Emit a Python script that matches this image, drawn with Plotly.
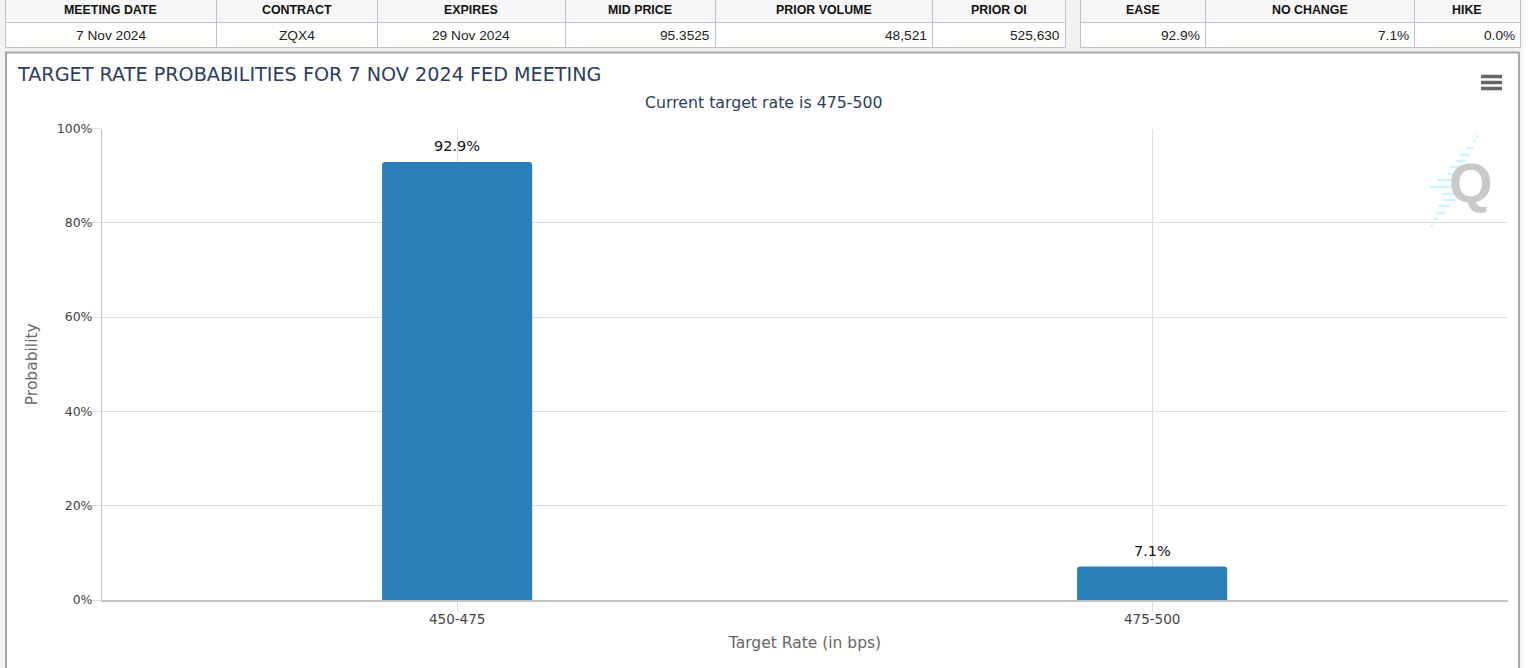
import plotly.graph_objects as go

W, H = 1529, 668

# chart data
rates = ["450-475", "475-500"]
probabilities = [92.9, 7.1]
bar_labels = ["92.9%", "7.1%"]
y_ticks = [0, 20, 40, 60, 80, 100]
y_tick_labels = ["0%", "20%", "40%", "60%", "80%", "100%"]

# the two tables above the chart
left_headers = ["MEETING DATE", "CONTRACT", "EXPIRES", "MID PRICE", "PRIOR VOLUME", "PRIOR OI"]
left_values = ["7 Nov 2024", "ZQX4", "29 Nov 2024", "95.3525", "48,521", "525,630"]
left_aligns = ["center", "center", "center", "right", "right", "right"]
left_edges = [5, 216, 377, 565, 715, 932, 1065]
right_headers = ["EASE", "NO CHANGE", "HIKE"]
right_values = ["92.9%", "7.1%", "0.0%"]
right_aligns = ["right", "right", "right"]
right_edges = [1080, 1205, 1414, 1520]

BLUE = "#2a7fb8"
TABLE_LINE = "#c0c0d0"
TEXT = "#333a45"
CHART_FONT = "DejaVu Sans"

# plot area in pixels
PX0, PX1, PY0, PY1 = 102, 1508, 128.5, 600


def fx(px):
    return px / W


def fy(py):
    return 1 - py / H


fig = go.Figure()

fig.add_trace(
    go.Bar(
        x=rates,
        y=probabilities,
        width=0.216,
        marker=dict(color=BLUE, line=dict(width=0), cornerradius=3),
        cliponaxis=False,
        hoverinfo="x+y",
    )
)

shapes = []
annotations = []


def rect(x0, y0, x1, y1, fill="rgba(0,0,0,0)", line="rgba(0,0,0,0)", width=1, layer="below"):
    shapes.append(
        dict(
            type="rect", xref="paper", yref="paper",
            x0=fx(x0), x1=fx(x1), y0=fy(y0), y1=fy(y1),
            fillcolor=fill, line=dict(color=line, width=width), layer=layer,
        )
    )


def label(px, py, text, size, color, family="Liberation Sans", anchor="center"):
    annotations.append(
        dict(
            x=fx(px), y=fy(py), xref="paper", yref="paper", text=text, showarrow=False,
            xanchor=anchor, yanchor="middle",
            font=dict(family=family, size=size, color=color),
        )
    )


def table(edges, headers, values, aligns):
    rect(edges[0] + 0.5, -2, edges[-1] + 0.5, 22.5, fill="#f7f7f7", line=TABLE_LINE)
    rect(edges[0] + 0.5, 22.5, edges[-1] + 0.5, 47.5, fill="#ffffff", line=TABLE_LINE)
    for edge in edges[1:-1]:
        rect(edge + 0.5, -2, edge + 0.5, 47.5, line=TABLE_LINE)
    for i, head in enumerate(headers):
        mid = (edges[i] + edges[i + 1]) / 2
        label(mid, 10, "<b>%s</b>" % head, 12.4, "#111111")
        if aligns[i] == "center":
            label(mid, 35, values[i], 13.7, "#222222")
        else:
            label(edges[i + 1] - 3, 35, values[i], 13.7, "#222222", anchor="right")


# page background, then the chart panel
rect(0, 0, W, H, fill="#ffffff")
rect(0, 0, 1523, H + 4, fill="#f2f2f2")
rect(6, 52.5, 1519, H + 4, fill="#ffffff", line="#a8a8a8", width=2)
table(left_edges, left_headers, left_values, left_aligns)
table(right_edges, right_headers, right_values, right_aligns)

# menu icon
for py in (76.5, 82.5, 88.5):
    shapes.append(
        dict(
            type="line", xref="paper", yref="paper",
            x0=fx(1481), x1=fx(1502), y0=fy(py), y1=fy(py),
            line=dict(color="#666666", width=3.5), layer="above",
        )
    )

# Q watermark: light streaks behind a grey letter
streaks = [(1476, 1478, 136), (1473, 1476, 141), (1467, 1473, 148), (1460, 1470, 155),
           (1456, 1466, 161), (1450, 1460, 167), (1448, 1456, 174), (1437, 1456, 180),
           (1430, 1456, 187), (1443, 1456, 194), (1443, 1456, 200), (1438, 1450, 206),
           (1436, 1445, 213), (1433, 1438, 219), (1430, 1433, 226)]
for x0, x1, py in streaks:
    shapes.append(
        dict(
            type="line", xref="paper", yref="paper",
            x0=fx(x0), x1=fx(x1), y0=fy(py), y1=fy(py),
            line=dict(color="#d0f4ff", width=2.5), layer="below",
        )
    )
label(1471, 182, "<b>Q</b>", 56, "#c9c9c9", family="Liberation Sans")

label(15, 74, "TARGET RATE PROBABILITIES FOR 7 NOV 2024 FED MEETING", 19.2, "#2c3e5c",
      family=CHART_FONT, anchor="left")
label(763, 102.5, "Current target rate is 475-500", 15.75, "#2c3e5c", family=CHART_FONT)

# value labels sit a little higher above the bars than plotly's outside text
for rate, prob, text in zip(rates, probabilities, bar_labels):
    annotations.append(
        dict(
            x=rate, y=prob, xref="x", yref="y", text=text, showarrow=False,
            yanchor="bottom", yshift=6,
            font=dict(family=CHART_FONT, size=14.5, color="#111111"),
        )
    )

fig.update_layout(
    width=W,
    height=H,
    margin=dict(l=0, r=0, t=0, b=0),
    paper_bgcolor="#ffffff",
    plot_bgcolor="rgba(0,0,0,0)",
    showlegend=False,
    shapes=shapes,
    annotations=annotations,
    font=dict(family=CHART_FONT, color=TEXT),
    xaxis=dict(
        domain=[fx(PX0), fx(PX1)],
        type="category",
        automargin=False,
        range=[-0.511, 1.512],
        showgrid=True,
        gridcolor="#dcdce2",
        gridwidth=1,
        ticks="outside",
        ticklen=10,
        tickcolor="#dcdce2",
        ticklabelstandoff=-4,
        tickfont=dict(size=13.5, color="#444444"),
        title=dict(text="Target Rate (in bps)", font=dict(size=15.5, color="#666666"), standoff=11),
        showline=True,
        linecolor="#c4c4c4",
        linewidth=2,
        zeroline=False,
    ),
    yaxis=dict(
        domain=[fy(PY1), fy(PY0)],
        automargin=False,
        range=[0, 100],
        tickvals=y_ticks,
        ticktext=y_tick_labels,
        showgrid=True,
        gridcolor="#dedede",
        gridwidth=1,
        ticks="outside",
        ticklen=10,
        tickcolor="#dedede",
        ticklabelstandoff=-4,
        tickfont=dict(size=12.5, color="#444444"),
        title=dict(text="Probability", font=dict(size=15.5, color="#666666"), standoff=15),
        showline=True,
        linecolor="#c4c4c4",
        linewidth=1,
        zeroline=False,
    ),
)

fig.write_html(
    "out.html",
    config=dict(displayModeBar=False),
    post_script="document.body.style.margin='0';document.body.style.overflow='hidden';",
)
